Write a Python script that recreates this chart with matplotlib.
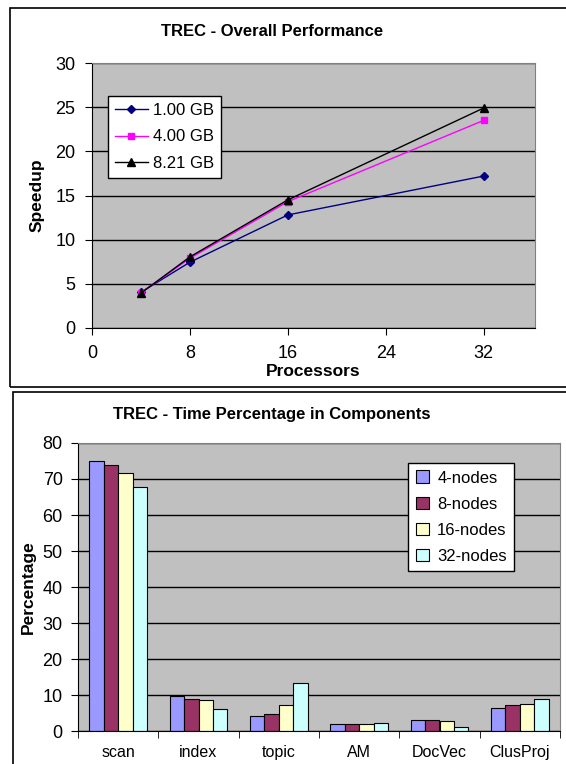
import matplotlib.pyplot as plt
import numpy as np
from matplotlib.patches import Rectangle

plt.rcParams['font.family'] = ['Liberation Sans', 'DejaVu Sans']

# speedup data
procs = [4, 8, 16, 32]
speed_1gb = [4.05, 7.45, 12.8, 17.2]
speed_4gb = [4.0, 7.9, 14.3, 23.5]
speed_8gb = [3.95, 8.05, 14.5, 24.9]

# time percentage data
components = ['scan', 'index', 'topic', 'AM', 'DocVec', 'ClusProj']
nodes_4 = [75.0, 9.7, 4.05, 1.85, 3.1, 6.3]
nodes_8 = [73.8, 9.0, 4.7, 1.85, 3.1, 7.2]
nodes_16 = [71.7, 8.5, 7.2, 1.85, 2.8, 7.5]
nodes_32 = [67.9, 6.0, 13.4, 2.2, 1.2, 8.8]

W, H = 566, 764
fig = plt.figure(figsize=(W / 100, H / 100), dpi=100)

def fx(px):
    return px / W

def fy(py):
    return 1 - py / H

# outer frames
fig.patches.append(Rectangle((fx(10), fy(387)), fx(600), fy(8) - fy(387),
                             transform=fig.transFigure, fill=False, ec='black', lw=1.2))
fig.patches.append(Rectangle((fx(13), fy(800)), fx(600), fy(392) - fy(800),
                             transform=fig.transFigure, fill=False, ec='black', lw=1.2))

gray = '#C0C0C0'

# ---- top chart
ax1 = fig.add_axes([fx(92), fy(328), fx(535) - fx(92), fy(63) - fy(328)])
ax1.set_facecolor(gray)
ax1.plot(procs, speed_1gb, '-D', color='#000080', ms=4.5, lw=1, label='1.00 GB')
ax1.plot(procs, speed_4gb, '-s', color='#FF00FF', ms=5, lw=1, label='4.00 GB')
ax1.plot(procs, speed_8gb, '-^', color='black', ms=6, lw=1, label='8.21 GB')
ax1.set_xlim(0, 36.2)
ax1.set_ylim(0, 30)
ax1.set_xticks([0, 8, 16, 24, 32])
ax1.set_yticks(range(0, 31, 5))
ax1.yaxis.grid(True, color='black', lw=1)
ax1.set_axisbelow(True)
ax1.tick_params(labelsize=13, direction='out', length=5, color='black', pad=7)
for s in ['top', 'right']:
    ax1.spines[s].set_color('#808080')
fig.text(fx(272), fy(31), 'TREC - Overall Performance', fontsize=12, fontweight='bold',
         ha='center', va='center')
fig.text(fx(37), fy(195), 'Speedup', fontsize=12.5, fontweight='bold', rotation=90,
         ha='center', va='center')
fig.text(fx(313), fy(371), 'Processors', fontsize=12.5, fontweight='bold',
         ha='center', va='center')
leg = ax1.legend(loc='upper left', fontsize=12,
                 frameon=True, fancybox=False, edgecolor='black', framealpha=1,
                 borderpad=0.4, handlelength=2.0, handletextpad=0.3, labelspacing=0.7,
                 borderaxespad=0)
leg.set_bbox_to_anchor(((108 - 92) / (535 - 92), (328 - 96) / (328 - 63)), transform=ax1.transAxes)
leg.get_frame().set_linewidth(1)

# ---- bottom chart
ax2 = fig.add_axes([fx(78), fy(731), fx(560) - fx(78), fy(443) - fy(731)])
ax2.set_facecolor(gray)
x = np.arange(len(components))
bw = 0.18
colors = ['#9999FF', '#993366', '#FFFFCC', '#CCFFFF']
labels = ['4-nodes', '8-nodes', '16-nodes', '32-nodes']
series = [nodes_4, nodes_8, nodes_16, nodes_32]
for i, (vals, c, lab) in enumerate(zip(series, colors, labels)):
    ax2.bar(x + (i - 1.5) * bw, vals, bw, color=c, edgecolor='black', lw=0.8, label=lab)
ax2.set_xlim(-0.5, len(components) - 0.5)
ax2.set_ylim(0, 80)
ax2.set_yticks(range(0, 81, 10))
ax2.set_xticks(x)
ax2.set_xticklabels(components)
ax2.set_xticks(np.arange(-0.5, len(components)), minor=True)
ax2.tick_params(axis='x', which='major', length=0, labelsize=11.5, pad=10)
ax2.tick_params(axis='x', which='minor', length=5, direction='out')
ax2.tick_params(axis='y', labelsize=13, direction='out', length=5, pad=6)
ax2.yaxis.grid(True, color='black', lw=1)
ax2.set_axisbelow(True)
for s in ['top', 'right']:
    ax2.spines[s].set_color('#808080')
fig.text(fx(272), fy(414), 'TREC - Time Percentage in Components', fontsize=12,
         fontweight='bold', ha='center', va='center')
fig.text(fx(28), fy(587), 'Percentage', fontsize=12.5, fontweight='bold', rotation=90,
         ha='center', va='center')
leg2 = ax2.legend(loc='upper left', fontsize=12, frameon=True, fancybox=False,
                  edgecolor='black', framealpha=1, borderpad=0.45, handlelength=0.8,
                  handleheight=0.8, handletextpad=0.5, labelspacing=0.65, borderaxespad=0)
leg2.set_bbox_to_anchor(((408 - 78) / (560 - 78), (731 - 463) / (731 - 443)), transform=ax2.transAxes)
leg2.get_frame().set_linewidth(1)

fig.savefig('out.png', dpi=100)
